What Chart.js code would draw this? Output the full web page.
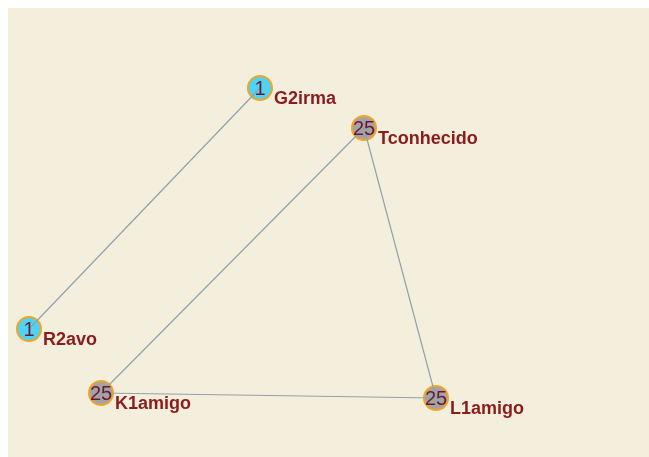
<!DOCTYPE html>
<html>
<head>
<meta charset="utf-8">
<style>
  html, body { margin: 0; padding: 0; background: #ffffff; }
  #wrap { width: 649px; height: 457px; }
</style>
</head>
<body>
<div id="wrap"><canvas id="grafo" width="649" height="457"></canvas></div>
<script src="https://cdn.jsdelivr.net/npm/chart.js@4.4.0/dist/chart.umd.min.js"></script>
<script>
// nodes of the graph
const nodeNames = ['G2irma', 'Tconhecido', 'R2avo', 'K1amigo', 'L1amigo'];
const nodeX = [260, 364, 29, 101, 436];
const nodeY = [88, 128, 329, 393, 398];
const nodeValues = [1, 25, 1, 25, 25];

// edges as pairs of node indexes
const edgeFrom = [0, 1, 1, 3];
const edgeTo = [2, 3, 4, 4];

const nodeColor = v => v === 1 ? '#4fd3f3' : '#a3a3a3';

const edgeSets = edgeFrom.map((a, i) => {
  const b = edgeTo[i];
  return {
    type: 'line',
    data: [{ x: nodeX[a], y: nodeY[a] }, { x: nodeX[b], y: nodeY[b] }],
    borderColor: '#8fa3aa',
    borderWidth: 1.2,
    pointRadius: 0,
    showLine: true,
    fill: false
  };
});

const nodeSet = {
  type: 'scatter',
  data: nodeNames.map((n, i) => ({ x: nodeX[i], y: nodeY[i] })),
  backgroundColor: nodeValues.map(nodeColor),
  borderColor: '#f0a428',
  borderWidth: 2,
  pointRadius: 12,
  pointHoverRadius: 12
};

// beige panel
const panel = {
  id: 'panel',
  beforeDraw(chart) {
    const { ctx } = chart;
    ctx.save();
    ctx.fillStyle = '#f4eedd';
    ctx.fillRect(8, 8, chart.width - 8, chart.height - 8);
    ctx.restore();
  }
};

// numbers inside nodes and the names
const nodeLabels = {
  id: 'nodeLabels',
  afterDatasetsDraw(chart) {
    const { ctx, scales: { x, y } } = chart;
    ctx.save();
    nodeNames.forEach((n, i) => {
      const px = x.getPixelForValue(nodeX[i]);
      const py = y.getPixelForValue(nodeY[i]);
      ctx.font = '20px "Liberation Sans", Arial, sans-serif';
      ctx.textAlign = 'center';
      ctx.textBaseline = 'middle';
      ctx.fillStyle = '#6a1a36';
      ctx.fillText(String(nodeValues[i]), px, py + 1);

      ctx.font = 'bold 18px "Liberation Sans", Arial, sans-serif';
      ctx.textAlign = 'left';
      ctx.textBaseline = 'alphabetic';
      ctx.fillStyle = '#8a1c1c';
      ctx.fillText(n, px + 14, py + 16);
    });
    ctx.restore();
  }
};

const config = {
  data: { datasets: [...edgeSets, nodeSet] },
  options: {
    responsive: false,
    animation: false,
    events: [],
    layout: { padding: 0, autoPadding: false },
    scales: {
      x: { type: 'linear', min: 0, max: 649, display: false },
      y: { type: 'linear', min: 0, max: 457, reverse: true, display: false }
    },
    plugins: {
      legend: { display: false },
      tooltip: { enabled: false }
    }
  },
  plugins: [panel, nodeLabels]
};

const grafo = new Chart(document.getElementById('grafo'), config);
</script>
</body>
</html>
